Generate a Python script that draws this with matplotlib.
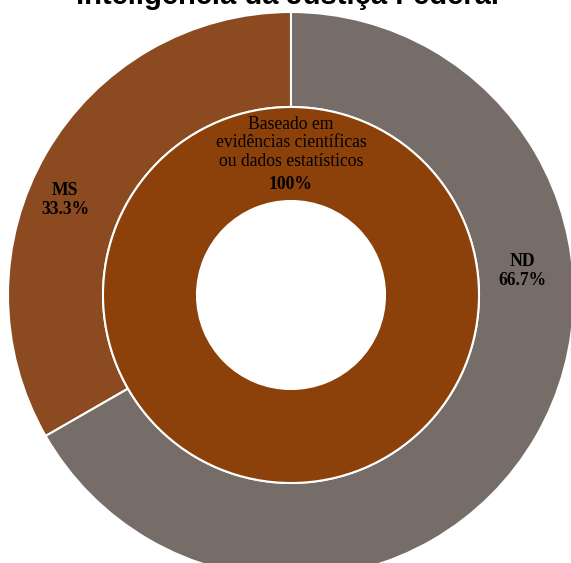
import matplotlib
matplotlib.use('Agg')
import matplotlib.pyplot as plt

# dados
externo_labels = ['MS', 'ND']
externo_valores = [33.3, 66.7]
externo_cores = ['#8B4A20', '#766D69']

interno_labels = ['Baseado em\nevidências científicas\nou dados estatísticos']
interno_valores = [100]
interno_cores = ['#8B4109']

titulo = 'Inteligência da Justiça Federal'

W, H = 571, 563
cx, cy, R = 291, 295, 283

fig = plt.figure(figsize=(W / 100, H / 100), dpi=100)
ax = fig.add_axes([0, 0, 1, 1])

ax.pie(externo_valores, radius=1, colors=externo_cores, startangle=90,
       counterclock=True,
       wedgeprops=dict(width=95 / R, edgecolor='white', linewidth=1.5))
ax.pie(interno_valores, radius=188 / R, colors=interno_cores, startangle=90,
       wedgeprops=dict(width=94 / R, edgecolor='white', linewidth=1.5))

ax.set_xlim(-cx / R, (W - cx) / R)
ax.set_ylim(-(H - cy) / R, cy / R)
ax.set_aspect('equal')
ax.axis('off')

def px(x, y):
    return (x - cx) / R, (cy - y) / R

serif = 'Liberation Serif'
fs = 12.7
x, y = px(291, 143)
ax.text(x, y, interno_labels[0], ha='center', va='center', family=serif,
        fontsize=fs, linespacing=1.15)
x, y = px(291, 185)
ax.text(x, y, '%d%%' % interno_valores[0], ha='center', va='center',
        family=serif, fontsize=fs, fontweight='bold')

posicoes = [(65, 200), (522, 271)]
for lab, val, (lx, ly) in zip(externo_labels, externo_valores, posicoes):
    x, y = px(lx, ly)
    ax.text(x, y, '%s\n%.1f%%' % (lab, val), ha='center', va='center',
            family=serif, fontsize=fs, fontweight='bold', linespacing=1.1)

fig.text(288 / W, 1 - 4 / H, titulo, ha='center', va='baseline',
         family='Liberation Sans', fontsize=21, fontweight='bold')

fig.savefig('out.png', dpi=100)
